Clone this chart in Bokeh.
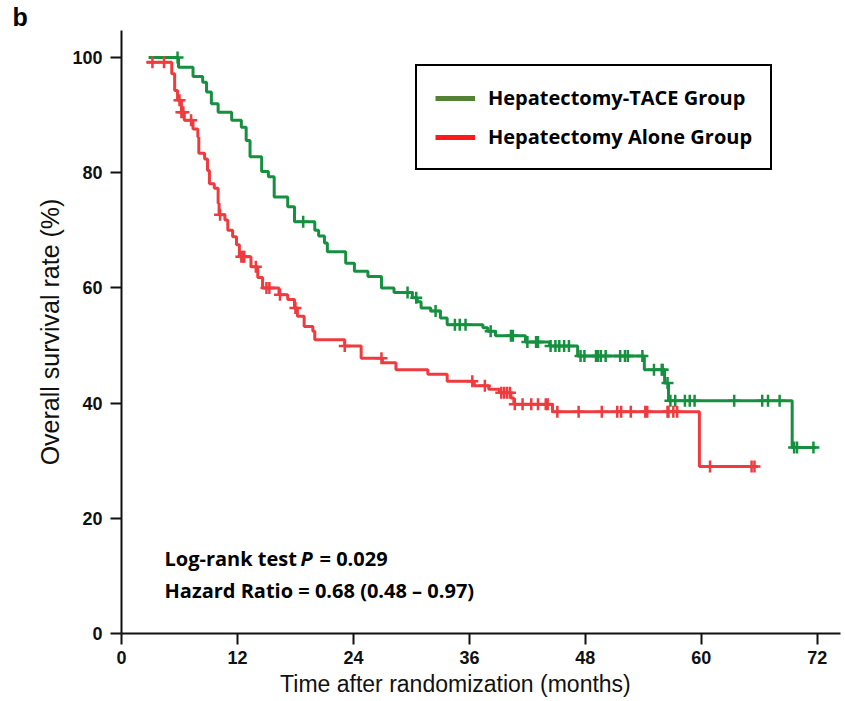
import numpy as np
from bokeh.plotting import figure
from bokeh.models import Range1d, FixedTicker, Label, Legend, LegendItem, CDSView, IndexFilter, ColumnDataSource
from bokeh.embed import file_html
from bokeh.resources import INLINE

# ---- data ----
g_time = [2.8, 5.9, 7.4, 8.4, 8.8, 9.3, 10.0, 11.4, 12.4, 12.9, 13.3, 14.5, 15.2, 15.8, 17.2, 17.9,
          20.0, 20.4, 21.0, 21.3, 23.2, 24.1, 25.5, 26.9, 28.2, 30.1, 30.6, 31.0, 32.0, 33.0, 33.7,
          37.4, 37.9, 38.7, 41.8, 44.3, 47.2, 54.1, 56.2, 56.6, 69.4, 71.9]
g_surv = [100, 98.3, 96.7, 95.7, 94.0, 92.0, 90.5, 89.1, 87.9, 85.6, 82.8, 80.2, 79.3, 75.8, 74.1, 71.5,
          70.0, 69.0, 67.8, 66.3, 64.3, 62.9, 62.0, 60.0, 59.2, 58.3, 57.6, 56.5, 56.0, 54.8, 53.6,
          53.1, 52.5, 51.7, 50.6, 49.9, 48.2, 45.8, 43.5, 40.4, 32.3, 32.3]
g_cens = [5.8, 18.8, 29.6, 30.5, 32.5, 34.5, 35.0, 35.6, 38.2, 40.3, 40.5, 42.0, 42.9, 43.1, 44.4, 44.9,
          45.3, 45.8, 46.3, 47.5, 47.9, 49.1, 49.3, 49.6, 50.1, 51.6, 52.1, 52.4, 53.9, 55.1, 55.9,
          56.0, 56.5, 56.8, 57.3, 58.3, 58.8, 59.3, 63.4, 66.3, 66.9, 68.1, 69.6, 69.9, 71.6]

r_time = [2.6, 5.2, 5.5, 5.8, 6.2, 6.5, 7.4, 7.9, 8.0, 8.6, 8.9, 9.1, 9.6, 10.0, 10.1, 10.7, 11.0,
          11.5, 11.9, 12.2, 13.4, 14.1, 14.6, 16.3, 17.2, 17.9, 18.2, 18.9, 19.8, 20.0, 23.1, 24.8,
          27.0, 28.4, 31.7, 33.7, 36.5, 38.0, 39.1, 40.3, 40.6, 44.6, 59.8, 65.8]
r_surv = [99.2, 97.2, 94.3, 92.6, 90.5, 89.1, 87.6, 86.2, 83.4, 82.4, 80.4, 78.1, 77.3, 74.7, 72.7,
          71.8, 70.0, 68.9, 67.5, 65.4, 63.7, 61.8, 60.0, 58.8, 58.0, 56.5, 55.1, 53.3, 52.5, 51.0,
          49.9, 47.8, 47.0, 45.8, 45.0, 43.8, 43.0, 42.4, 41.8, 40.9, 39.8, 38.5, 29.0, 29.0]
r_cens = [3.2, 4.4, 6.0, 6.2, 6.4, 7.2, 10.2, 12.4, 12.6, 12.7, 13.9, 15.0, 15.3, 16.4, 18.0, 23.1,
          26.9, 36.3, 37.6, 39.3, 39.6, 39.9, 40.2, 40.7, 41.5, 42.4, 43.1, 43.9, 44.1, 45.1, 47.3,
          49.7, 51.3, 51.7, 52.7, 54.2, 54.4, 56.5, 56.6, 57.1, 57.5, 60.9, 65.2, 65.5]

x_ticks = [0, 12, 24, 36, 48, 60, 72]
y_ticks = [0, 20, 40, 60, 80, 100]
series_names = ["Hepatectomy-TACE Group", "Hepatectomy Alone Group"]

G_COL = "#15903f"
R_COL = "#ef3b3f"


def step_at(times, surv, t):
    idx = np.searchsorted(np.asarray(times), np.asarray(t), side="right") - 1
    return np.asarray(surv)[idx]


W, H = 845, 701
LEFT, RIGHT, TOP, BOTTOM = 121, 5, 30, 68
X_END, Y_END = 74.4, 104.7

p = figure(width=W, height=H, x_range=Range1d(0, X_END), y_range=Range1d(0, Y_END),
           output_backend="svg", toolbar_location=None,
           min_border_left=LEFT, min_border_right=RIGHT, min_border_top=TOP,
           min_border_bottom=BOTTOM)
p.outline_line_color = None
p.xgrid.visible = False
p.ygrid.visible = False
p.background_fill_color = "white"

# panel letter as the title
p.title.text = "b"
p.title.align = "left"
p.title.offset = 12 - LEFT
p.title.standoff = 0
p.title.text_font = "'Liberation Sans', Arial, sans-serif"
p.title.text_font_style = "bold"
p.title.text_font_size = "25px"
p.title.text_color = "black"

fw = W - LEFT - RIGHT
fh = H - TOP - BOTTOM


def xd(px):
    return (px - LEFT) / fw * X_END


def yd(py):
    return (H - BOTTOM - py) / fh * Y_END


AX_FONT = "'Liberation Sans', Arial, sans-serif"
for ax, ticks in ((p.xaxis, x_ticks), (p.yaxis, y_ticks)):
    ax.ticker = FixedTicker(ticks=ticks)
    ax.axis_line_width = 2
    ax.axis_line_color = "#111111"
    ax.major_tick_line_width = 2
    ax.major_tick_line_color = "#111111"
    ax.major_tick_out = 11
    ax.major_tick_in = 0
    ax.minor_tick_line_color = None
    ax.major_label_text_font = "'Liberation Sans Narrow', 'Arial Narrow', 'Liberation Sans', sans-serif"
    ax.major_label_text_font_style = "bold"
    ax.major_label_text_font_size = "18px"
    ax.major_label_text_color = "#111111"
    ax.axis_label_text_font = AX_FONT
    ax.axis_label_text_font_style = "normal"
    ax.axis_label_text_color = "#111111"
p.xaxis.major_label_standoff = 6
p.yaxis.major_label_standoff = 8
p.xaxis.axis_label = "Time after randomization (months)" + "\u00a0" * 8
p.xaxis.axis_label_text_font_size = "23px"
p.xaxis.axis_label_standoff = 4
p.yaxis.axis_label = "Overall survival rate (%)"
p.yaxis.axis_label_text_font_size = "25px"
p.yaxis.axis_label_standoff = 5

# curves
p.step(x=g_time, y=g_surv, mode="after", line_color=G_COL, line_width=3)
p.step(x=r_time, y=r_surv, mode="after", line_color=R_COL, line_width=3)
p.scatter(x=g_cens, y=step_at(g_time, g_surv, g_cens), marker="cross", size=12,
          line_color=G_COL, line_width=2.5)
p.scatter(x=r_cens, y=step_at(r_time, r_surv, r_cens), marker="cross", size=12,
          line_color=R_COL, line_width=2.5)

# legend glyphs (styled as in the reference legend; a single-point line draws nothing)
src_g = ColumnDataSource(dict(x=g_time, y=g_surv))
src_r = ColumnDataSource(dict(x=r_time, y=r_surv))
lg_g = p.line(x="x", y="y", source=src_g, view=CDSView(filter=IndexFilter(indices=[0])),
              line_color="#538135", line_width=5)
lg_r = p.line(x="x", y="y", source=src_r, view=CDSView(filter=IndexFilter(indices=[0])),
              line_color="#ff1a1a", line_width=5)
legend = Legend(items=[LegendItem(label=series_names[0], renderers=[lg_g]),
                       LegendItem(label=series_names[1], renderers=[lg_r])],
                location=(415 - LEFT, H - BOTTOM - 170),
                border_line_color="black", border_line_width=2.5, border_line_alpha=1,
                padding=18, spacing=12, glyph_width=40, glyph_height=20,
                label_height=20, label_standoff=13, margin=0,
                label_text_font="Open Sans", label_text_font_style="bold",
                label_text_font_size="20px", label_text_color="black")
p.add_layout(legend, "center")

# annotations
TXT_FONT = "Open Sans"
TS = "20px"
p.add_layout(Label(x=xd(164), y=yd(558), text="Log-rank test", text_font=TXT_FONT,
                   text_font_style="bold", text_font_size=TS, text_baseline="middle",
                   text_color="black"))
p.add_layout(Label(x=xd(300), y=yd(558), text="P", text_font=TXT_FONT,
                   text_font_style="bold italic", text_font_size=TS, text_baseline="middle",
                   text_color="black"))
p.add_layout(Label(x=xd(319), y=yd(558), text="= 0.029", text_font=TXT_FONT,
                   text_font_style="bold", text_font_size=TS, text_baseline="middle",
                   text_color="black"))
p.add_layout(Label(x=xd(164), y=yd(590), text="Hazard Ratio = 0.68 (0.48 \u2013 0.97)",
                   text_font=TXT_FONT, text_font_style="bold", text_font_size=TS,
                   text_baseline="middle", text_color="black"))

open("out.html", "w").write(file_html(p, INLINE))
